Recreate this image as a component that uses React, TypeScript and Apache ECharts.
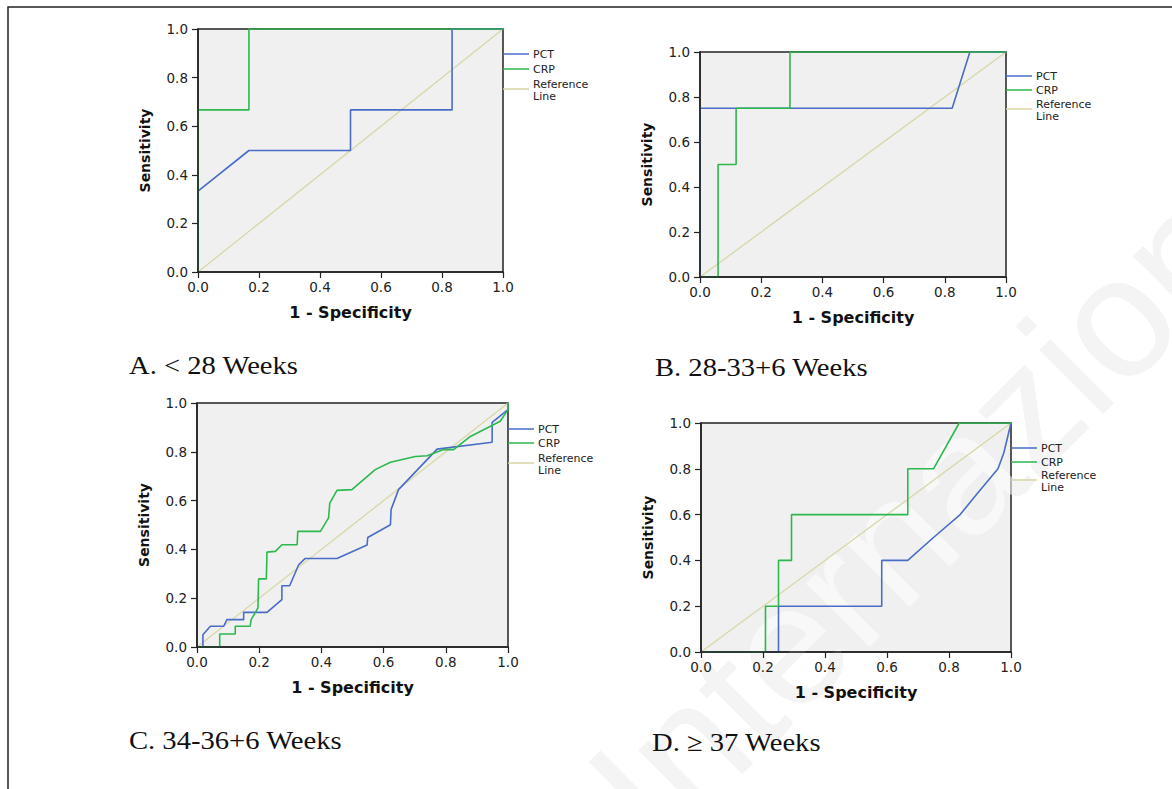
import React, { useEffect, useRef } from "react";
import * as echarts from "echarts";

// ---- data (1 - specificity, sensitivity) ----
const tickValues = [0, 0.2, 0.4, 0.6, 0.8, 1.0];
const seriesNames = ["PCT", "CRP", "Reference Line"];
const captions = ["A. < 28 Weeks", "B. 28-33+6 Weeks", "C. 34-36+6 Weeks", "D. \u2265 37 Weeks"];
const watermarkText = "Internazionale";

const refLine = [[0, 0], [1, 1]];

const pctA = [[0, 0], [0, 0.333], [0.167, 0.5], [0.5, 0.5], [0.5, 0.667], [0.833, 0.667], [0.833, 1], [1, 1]];
const crpA = [[0, 0], [0, 0.667], [0.167, 0.667], [0.167, 1], [1, 1]];

const pctB = [[0, 0], [0, 0.75], [0.824, 0.75], [0.882, 1], [1, 1]];
const crpB = [[0, 0], [0.059, 0], [0.059, 0.5], [0.118, 0.5], [0.118, 0.75], [0.294, 0.75], [0.294, 1], [1, 1]];

const pctC = [
  [0, 0], [0.019, 0], [0.019, 0.05], [0.043, 0.085], [0.086, 0.085], [0.096, 0.112], [0.15, 0.112],
  [0.15, 0.142], [0.225, 0.142], [0.273, 0.194], [0.273, 0.251], [0.298, 0.251], [0.327, 0.337],
  [0.348, 0.363], [0.45, 0.363], [0.547, 0.418], [0.549, 0.449], [0.622, 0.501], [0.624, 0.563],
  [0.648, 0.645], [0.772, 0.811], [0.949, 0.839], [0.949, 0.921], [1, 0.973], [1, 1],
];
const crpC = [
  [0, 0], [0.073, 0], [0.073, 0.053], [0.123, 0.053], [0.123, 0.085], [0.171, 0.085], [0.174, 0.112],
  [0.196, 0.16], [0.198, 0.279], [0.223, 0.279], [0.225, 0.389], [0.252, 0.392], [0.273, 0.419],
  [0.322, 0.419], [0.324, 0.474], [0.397, 0.474], [0.423, 0.529], [0.427, 0.59], [0.45, 0.642],
  [0.498, 0.645], [0.573, 0.727], [0.622, 0.757], [0.702, 0.781], [0.74, 0.784], [0.793, 0.809],
  [0.825, 0.809], [0.879, 0.863], [0.975, 0.925], [1, 0.973], [1, 1],
];

const pctD = [
  [0, 0], [0.25, 0], [0.25, 0.2], [0.583, 0.2], [0.583, 0.4], [0.667, 0.4], [0.75, 0.5],
  [0.836, 0.6], [0.89, 0.69], [0.958, 0.8], [0.977, 0.87], [1, 1],
];
const crpD = [
  [0, 0], [0.208, 0], [0.208, 0.2], [0.25, 0.2], [0.25, 0.4], [0.292, 0.4], [0.292, 0.6],
  [0.667, 0.6], [0.667, 0.8], [0.75, 0.8], [0.833, 1], [1, 1],
];

const panelPCT = [pctA, pctB, pctC, pctD];
const panelCRP = [crpA, crpB, crpC, crpD];

// ---- layout / style ----
const grids = [
  { left: 198, top: 29, width: 305, height: 243 },
  { left: 700, top: 52, width: 306, height: 225 },
  { left: 197, top: 403, width: 311, height: 244 },
  { left: 701, top: 423, width: 310, height: 229 },
];
const legendOffsets = [
  [25, 40, 60],
  [24, 38, 57],
  [26, 40, 60],
  [25, 39, 57],
];
const captionPos = [
  [129, 365],
  [655, 367],
  [129, 740],
  [652, 742],
];
const COLORS = ["#4a6cc9", "#2db84d", "#d9d6a6"];
const FONT = "DejaVu Sans";

export default function App() {
  const ref = useRef<HTMLDivElement>(null);
  useEffect(() => {
    if (!ref.current) return;
    const chart = echarts.init(ref.current, undefined, { renderer: "svg" });

    const gridOpts = grids.map((g) => ({
      ...g,
      show: true,
      z: 0,
      backgroundColor: "#f0f0f0",
      borderColor: "#222",
      borderWidth: 1.5,
      containLabel: false,
    }));

    const labelFmt = (v: number) => v.toFixed(1);

    const xAxes = grids.map((_, i) => ({
      type: "value",
      gridIndex: i,
      z: 6,
      min: 0,
      max: 1,
      interval: 0.2,
      name: "1 - Specificity",
      nameLocation: "middle",
      nameGap: 32,
      nameTextStyle: { fontFamily: FONT, fontWeight: "bold", fontSize: 16, color: "#111" },
      axisLine: { show: true, onZero: false, lineStyle: { color: "#222", width: 1.5 } },
      axisTick: { show: true, length: 6, lineStyle: { color: "#222", width: 1.2 } },
      axisLabel: { margin: 8, fontFamily: FONT, fontSize: 13.5, color: "#222", formatter: labelFmt },
      splitLine: { show: false },
    }));

    const yAxes = grids.map((_, i) => ({
      type: "value",
      gridIndex: i,
      z: 6,
      min: 0,
      max: 1,
      interval: 0.2,
      name: "Sensitivity",
      nameLocation: "middle",
      nameGap: 46,
      nameTextStyle: { fontFamily: FONT, fontWeight: "bold", fontSize: 14, color: "#111" },
      axisLine: { show: true, onZero: false, lineStyle: { color: "#222", width: 1.5 } },
      axisTick: { show: true, length: 6, lineStyle: { color: "#222", width: 1.2 } },
      axisLabel: { margin: 10, fontFamily: FONT, fontSize: 13.5, color: "#222", formatter: labelFmt },
      splitLine: { show: false },
    }));

    const series: any[] = [];
    grids.forEach((_, i) => {
      const datasets = [panelPCT[i], panelCRP[i], refLine];
      [2, 0, 1].forEach((k) => {
        series.push({
          type: "line",
          name: seriesNames[k],
          xAxisIndex: i,
          yAxisIndex: i,
          data: datasets[k],
          showSymbol: false,
          symbol: "none",
          silent: true,
          clip: true,
          lineStyle: { color: COLORS[k], width: k === 2 ? 1.3 : 1.6 },
          z: k === 2 ? 3 : 4,
        });
      });
    });

    const graphics: any[] = [];
    // watermark: light gray on white, lighter stripes over the gray plot areas
    const wmBase = {
      type: "text",
      x: 619,
      y: 814,
      rotation: (45 * Math.PI) / 180,
      silent: true,
    };
    const wmStyle = {
      text: watermarkText,
      fontFamily: "Liberation Sans",
      fontSize: 170,
      align: "left",
      verticalAlign: "middle",
    };
    graphics.push({ ...wmBase, z: -10, style: { ...wmStyle, fill: "#e6e6e6" } });
    graphics.push({ ...wmBase, z: 1, style: { ...wmStyle, fill: "rgba(255,255,255,0.55)" } });
    // outer frame
    graphics.push({
      type: "rect",
      z: 10,
      shape: { x: 8, y: 7, width: 1180, height: 800 },
      style: { fill: "none", stroke: "#222", lineWidth: 1.5 },
      silent: true,
    });
    grids.forEach((g, i) => {
      const x0 = g.left + g.width;
      const offs = legendOffsets[i];
      [0, 1, 2].forEach((k) => {
        const y = g.top + offs[k];
        graphics.push({
          type: "line",
          z: 10,
          shape: { x1: x0, y1: y, x2: x0 + 26, y2: y },
          style: { stroke: COLORS[k], lineWidth: 1.5 },
          silent: true,
        });
        graphics.push({
          type: "text",
          z: 10,
          x: x0 + 30,
          y: y + (k === 2 ? 1 : 0),
          style: {
            text: k === 2 ? "Reference\nLine" : seriesNames[k],
            fontFamily: FONT,
            fontSize: 11,
            lineHeight: 12,
            fill: "#222",
            align: "left",
            verticalAlign: "middle",
          },
          silent: true,
        });
      });
      graphics.push({
        type: "text",
        z: 10,
        x: captionPos[i][0],
        y: captionPos[i][1],
        scaleX: 1.1,
        style: {
          text: captions[i],
          fontFamily: "Liberation Serif",
          fontSize: 26,
          fill: "#111",
          align: "left",
          verticalAlign: "middle",
        },
        silent: true,
      });
    });

    chart.setOption({
      animation: false,
      backgroundColor: "#ffffff",
      grid: gridOpts,
      xAxis: xAxes,
      yAxis: yAxes,
      series,
      graphic: graphics,
    });

    return () => chart.dispose();
  }, []);

  return (
    <div
      ref={ref}
      style={{ position: "fixed", left: 0, top: 0, width: 1172, height: 789, background: "#fff" }}
    />
  );
}
